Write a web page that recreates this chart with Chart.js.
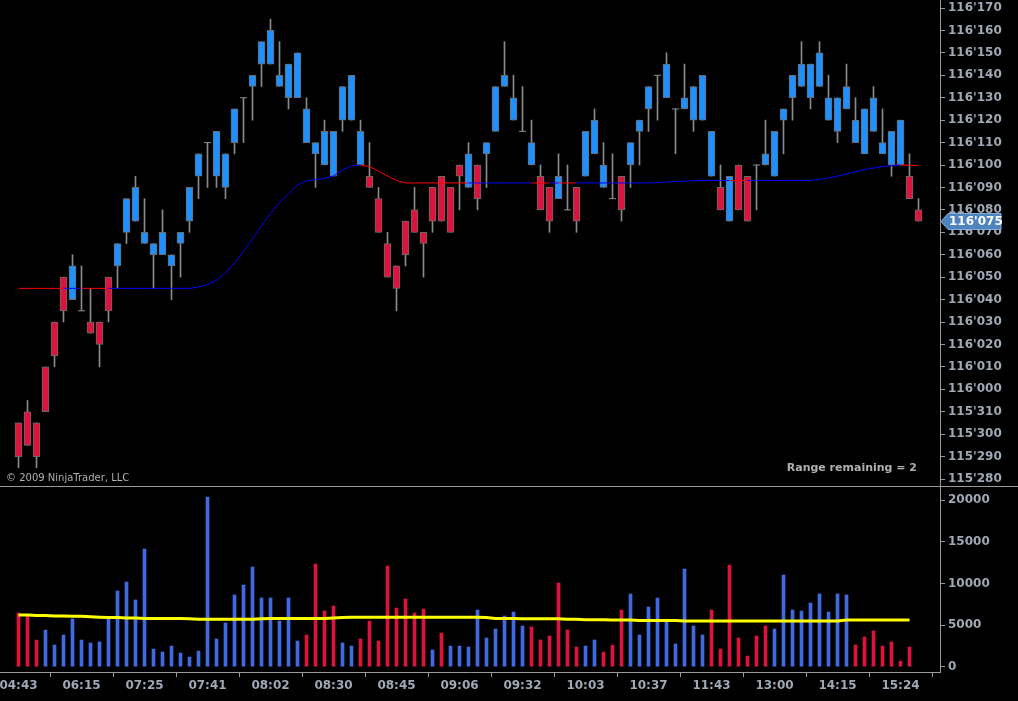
<!DOCTYPE html>
<html>
<head>
<meta charset="utf-8">
<script src="https://cdn.jsdelivr.net/npm/chart.js@4.4.0/dist/chart.umd.min.js"></script>
<style>
  html, body { margin: 0; padding: 0; background: #000; }
  #wrap { position: relative; width: 1018px; height: 701px; overflow: hidden; }
  #price { position: absolute; left: 0; top: 0; }
  #vol { position: absolute; left: 0; top: 487px; }
</style>
</head>
<body>
<div id="wrap">
  <canvas id="price" width="1018" height="487"></canvas>
  <canvas id="vol" width="1018" height="214"></canvas>
</div>
<script>
// prices in bond quote notation: 116.075 means 116'075 (116 and 7.5/32)
const opens = [
  115.305, 115.31, 115.305, 116.01, 116.03, 116.05, 116.04, 116.035, 116.03, 116.03,
  116.05, 116.055, 116.07, 116.075, 116.065, 116.06, 116.06, 116.055, 116.065, 116.075,
  116.095, 116.11, 116.095, 116.09, 116.11, 116.13, 116.135, 116.145, 116.145, 116.135,
  116.13, 116.13, 116.11, 116.105, 116.1, 116.095, 116.12, 116.12, 116.1, 116.095,
  116.085, 116.065, 116.055, 116.075, 116.08, 116.07, 116.09, 116.095, 116.09, 116.1,
  116.09, 116.1, 116.105, 116.115, 116.135, 116.12, 116.115, 116.1, 116.095, 116.09,
  116.085, 116.08, 116.09, 116.095, 116.105, 116.09, 116.085, 116.095, 116.1, 116.115,
  116.125, 116.14, 116.13, 116.125, 116.125, 116.12, 116.12, 116.095, 116.09, 116.075,
  116.1, 116.095, 116.1, 116.1, 116.095, 116.12, 116.13, 116.135, 116.13, 116.135,
  116.12, 116.115, 116.125, 116.11, 116.105, 116.115, 116.105, 116.1, 116.1, 116.095,
  116.08
];
const highs = [
  115.305, 115.315, 115.305, 116.01, 116.03, 116.05, 116.06, 116.055, 116.045, 116.03,
  116.05, 116.065, 116.085, 116.095, 116.085, 116.065, 116.08, 116.06, 116.07, 116.09,
  116.105, 116.11, 116.115, 116.105, 116.125, 116.13, 116.14, 116.155, 116.165, 116.155,
  116.145, 116.15, 116.13, 116.11, 116.12, 116.115, 116.135, 116.14, 116.12, 116.11,
  116.09, 116.07, 116.055, 116.075, 116.09, 116.07, 116.09, 116.095, 116.09, 116.1,
  116.11, 116.1, 116.11, 116.135, 116.155, 116.14, 116.135, 116.12, 116.1, 116.09,
  116.105, 116.1, 116.09, 116.115, 116.125, 116.11, 116.105, 116.095, 116.11, 116.12,
  116.135, 116.14, 116.15, 116.125, 116.145, 116.135, 116.14, 116.115, 116.1, 116.095,
  116.1, 116.095, 116.1, 116.12, 116.115, 116.125, 116.14, 116.155, 116.145, 116.155,
  116.14, 116.13, 116.145, 116.13, 116.125, 116.135, 116.125, 116.115, 116.12, 116.105,
  116.085
];
const lows = [
  115.285, 115.295, 115.285, 115.31, 116.01, 116.03, 116.04, 116.035, 116.025, 116.01,
  116.03, 116.045, 116.065, 116.075, 116.065, 116.045, 116.06, 116.04, 116.05, 116.07,
  116.085, 116.09, 116.09, 116.085, 116.105, 116.11, 116.12, 116.135, 116.145, 116.135,
  116.125, 116.13, 116.11, 116.09, 116.1, 116.095, 116.115, 116.12, 116.1, 116.09,
  116.07, 116.05, 116.035, 116.055, 116.07, 116.05, 116.07, 116.075, 116.07, 116.08,
  116.09, 116.08, 116.09, 116.115, 116.135, 116.12, 116.115, 116.1, 116.08, 116.07,
  116.085, 116.08, 116.07, 116.095, 116.105, 116.09, 116.085, 116.075, 116.09, 116.1,
  116.115, 116.12, 116.13, 116.105, 116.125, 116.115, 116.12, 116.095, 116.08, 116.075,
  116.08, 116.075, 116.08, 116.1, 116.095, 116.105, 116.12, 116.135, 116.125, 116.135,
  116.12, 116.11, 116.125, 116.11, 116.105, 116.115, 116.105, 116.095, 116.1, 116.085,
  116.075
];
const closes = [
  115.29, 115.295, 115.29, 115.31, 116.015, 116.035, 116.055, 116.035, 116.025, 116.02,
  116.035, 116.065, 116.085, 116.09, 116.07, 116.065, 116.07, 116.06, 116.07, 116.09,
  116.105, 116.11, 116.115, 116.105, 116.125, 116.13, 116.14, 116.155, 116.16, 116.14,
  116.145, 116.15, 116.125, 116.11, 116.115, 116.115, 116.135, 116.14, 116.115, 116.09,
  116.07, 116.05, 116.045, 116.06, 116.07, 116.065, 116.075, 116.075, 116.07, 116.095,
  116.105, 116.085, 116.11, 116.135, 116.14, 116.13, 116.115, 116.11, 116.08, 116.075,
  116.095, 116.08, 116.075, 116.115, 116.12, 116.1, 116.085, 116.08, 116.11, 116.12,
  116.135, 116.14, 116.145, 116.125, 116.13, 116.135, 116.14, 116.115, 116.08, 116.095,
  116.08, 116.075, 116.1, 116.105, 116.115, 116.125, 116.14, 116.145, 116.145, 116.15,
  116.13, 116.13, 116.135, 116.12, 116.125, 116.13, 116.11, 116.115, 116.12, 116.085,
  116.075
];
// moving average of price and its trend (U = rising / blue, D = falling / red)
const priceMA = [
  116.045, 116.045, 116.045, 116.045, 116.045, 116.045, 116.045, 116.045, 116.045, 116.045,
  116.045, 116.045, 116.045, 116.045, 116.045, 116.045, 116.045, 116.045, 116.045, 116.045,
  116.0456, 116.0467, 116.0487, 116.0519, 116.0563, 116.0617, 116.067, 116.0728, 116.0786, 116.0831,
  116.0871, 116.0911, 116.0929, 116.0935, 116.094, 116.0951, 116.0978, 116.0996, 116.1, 116.0993,
  116.0973, 116.0951, 116.0931, 116.092, 116.092, 116.092, 116.092, 116.092, 116.092, 116.092,
  116.092, 116.092, 116.092, 116.092, 116.092, 116.092, 116.092, 116.092, 116.092, 116.092,
  116.092, 116.092, 116.092, 116.092, 116.092, 116.092, 116.092, 116.092, 116.092, 116.092,
  116.092, 116.0922, 116.0924, 116.0926, 116.0928, 116.093, 116.0931, 116.0931, 116.0931, 116.0931,
  116.0931, 116.0931, 116.0931, 116.0931, 116.0931, 116.0931, 116.0931, 116.0931, 116.0931, 116.0936,
  116.0942, 116.095, 116.096, 116.097, 116.098, 116.0987, 116.0993, 116.0997, 116.1, 116.0999,
  116.0998
];
const maTrend = ('DDDDDDUUDD DUUUUUUUUU UUUUUUUUUU UUUUUUUUUD DDDDDDDDDD ' +
  'DUUUUUUUDD UDDUUUUUUU UUUUUUUUUU DDUUUUUUUU UUUUUUUUUD D').replace(/ /g, '').split('');

const volumes = [
  6450, 6090, 3200, 4400, 2600, 3800, 5730, 3200, 2850, 2970,
  5730, 9100, 10180, 8020, 14150, 2120, 1760, 2480, 1640, 1160,
  1880, 20400, 3330, 5250, 8620, 9820, 11980, 8260, 8260, 5490,
  8260, 3090, 3810, 12340, 6690, 7290, 2850, 2480, 3330, 5490,
  3090, 12100, 7050, 8140, 6450, 6930, 2000, 4050, 2480, 2480,
  2360, 6810, 3450, 4530, 6090, 6570, 4890, 4770, 3210, 3690,
  10060, 4410, 2360, 2480, 3210, 1760, 2600, 6810, 8740, 3810,
  7170, 8260, 5370, 2730, 11740, 4890, 3810, 6810, 2120, 12220,
  3450, 1280, 3690, 4890, 4530, 11020, 6810, 6690, 7650, 8740,
  6570, 8740, 8620, 2600, 3570, 4290, 2480, 2970, 680, 2360
];
const volDir = ('DDDUUUUUUU UUUUUUUUUU UUUUUUUUUU UUDDDDUUDD DDDDDDUDUU ' +
  'UUUUUUUDDD DDDUUDDDUU UUUUUUUDDD DDDDUUUUUU UUUDDDDDDD').replace(/ /g, '').split('');
const volMA = [
  6200, 6200, 6150, 6150, 6100, 6100, 6050, 6050, 6000, 5950,
  5900, 5900, 5850, 5850, 5800, 5800, 5800, 5800, 5800, 5750,
  5700, 5700, 5700, 5700, 5700, 5700, 5700, 5750, 5800, 5800,
  5800, 5800, 5800, 5800, 5800, 5850, 5900, 5950, 5950, 5950,
  5950, 5950, 5950, 5950, 5950, 5950, 5950, 5950, 5950, 5950,
  5950, 5950, 5900, 5800, 5800, 5800, 5750, 5750, 5750, 5750,
  5750, 5700, 5700, 5650, 5650, 5650, 5600, 5600, 5600, 5550,
  5550, 5550, 5550, 5550, 5500, 5500, 5500, 5500, 5500, 5500,
  5500, 5500, 5500, 5500, 5500, 5500, 5500, 5500, 5500, 5500,
  5500, 5500, 5600, 5600, 5600, 5600, 5600, 5600, 5600, 5600
];
// time labels, one every 7 bars
const timeTicks = ['04:43', '06:15', '07:25', '07:41', '08:02', '08:30', '08:45', '09:06',
  '09:32', '10:03', '10:37', '11:43', '13:00', '14:15', '15:24'];
const volTicks = [0, 5000, 10000, 15000, 20000];
const rangeText = 'Range remaining = 2';
const copyText = '\u00a9 2009 NinjaTrader, LLC';

// quote -> 32nds above 115'000, and back
function toU(q) {
  const w = Math.floor(q + 1e-9);
  return (w - 115) * 32 + Math.round((q - w) * 10000) / 100;
}
function fmtQuote(u) {
  const w = Math.floor(u / 32 + 1e-9);
  const f = u - w * 32;
  return (115 + w) + "'" + String(Math.round(f * 10)).padStart(3, '0');
}

const AXIS_W = 78;
const X_MIN = -2.0556, X_MAX = X_MIN + 940 / 9;
const axisColor = '#9a9a9a';
const labelColor = '#9ea9b5';
const labelFont = { family: 'DejaVu Sans', size: 12, weight: 'bold' };

Chart.defaults.animation = false;
Chart.defaults.plugins.legend.display = false;
Chart.defaults.plugins.tooltip.enabled = false;

const idx = opens.map((_, i) => i);
const wickData = idx.map(i => ({ x: i, y: [toU(lows[i]), toU(highs[i])] }));
const bodyData = idx.filter(i => opens[i] !== closes[i]).map(i => ({
  x: i,
  y: [toU(Math.min(opens[i], closes[i])), toU(Math.max(opens[i], closes[i]))],
  up: closes[i] > opens[i]
}));
const dojiData = idx.filter(i => opens[i] === closes[i]).map(i => ({ x: i, y: toU(closes[i]) }));
const maData = idx.map(i => ({ x: i, y: toU(priceMA[i]) }));

function rightAxis(min, max, tickVals, fmt) {
  return {
    position: 'right',
    min: min,
    max: max,
    afterFit(s) { s.width = AXIS_W; s.paddingTop = 0; s.paddingBottom = 0; },
    afterBuildTicks(s) { s.ticks = tickVals.map(v => ({ value: v })); },
    ticks: { callback: fmt, color: labelColor, font: labelFont, padding: 3 },
    grid: { drawOnChartArea: false, drawTicks: true, tickLength: 5, color: axisColor },
    border: { display: true, color: axisColor }
  };
}

const priceTicks = [];
for (let v = 28; v <= 49; v++) priceTicks.push(v);

const overlay = {
  id: 'overlay',
  afterDraw(chart) {
    const ctx = chart.ctx;
    const ys = chart.scales.y;
    ctx.save();
    // panel separator
    ctx.strokeStyle = axisColor;
    ctx.lineWidth = 1;
    ctx.beginPath();
    ctx.moveTo(0, 486.5);
    ctx.lineTo(1018, 486.5);
    ctx.stroke();

    ctx.fillStyle = '#b0b0b0';
    ctx.textBaseline = 'middle';
    ctx.font = '10px "DejaVu Sans"';
    ctx.textAlign = 'left';
    ctx.fillText(copyText, 6, 478);
    ctx.font = 'bold 11px "DejaVu Sans"';
    ctx.textAlign = 'right';
    ctx.fillText(rangeText, 917, 468);

    // last price marker
    const last = toU(closes[closes.length - 1]);
    const y = Math.round(ys.getPixelForValue(last)) + 0.5;
    ctx.beginPath();
    ctx.moveTo(941, y);
    ctx.lineTo(948, y - 8);
    ctx.lineTo(1001, y - 8);
    ctx.lineTo(1001, y + 8);
    ctx.lineTo(948, y + 8);
    ctx.closePath();
    ctx.fillStyle = '#4d84bd';
    ctx.fill();
    ctx.strokeStyle = '#86acd3';
    ctx.stroke();
    ctx.fillStyle = '#ffffff';
    ctx.font = 'bold 12px "DejaVu Sans"';
    ctx.textAlign = 'left';
    ctx.fillText(fmtQuote(last), 949, y + 0.5);
    ctx.restore();
  }
};

new Chart(document.getElementById('price'), {
  type: 'bar',
  data: {
    datasets: [
      {
        type: 'line',
        data: maData,
        borderWidth: 1,
        pointRadius: 0,
        segment: {
          borderColor: c => maTrend[c.p1DataIndex] === 'D' ? '#ff0000' : '#0000ff'
        },
        order: 0
      },
      {
        data: bodyData,
        grouped: false,
        barThickness: 7,
        backgroundColor: c => (c.raw && c.raw.up) ? '#1e90ff' : '#dc143c',
        borderColor: '#6a6a6a',
        borderWidth: 1,
        borderSkipped: false,
        order: 1
      },
      {
        type: 'line',
        data: dojiData,
        showLine: false,
        pointStyle: 'line',
        pointRadius: 3.5,
        borderColor: '#8a8a8a',
        borderWidth: 1,
        order: 2
      },
      {
        data: wickData,
        grouped: false,
        barThickness: 1,
        backgroundColor: '#8a8a8a',
        order: 3
      }
    ]
  },
  options: {
    responsive: false,
    devicePixelRatio: 1,
    layout: { autoPadding: false, padding: { left: 0, right: 0, top: 0, bottom: 1 } },
    scales: {
      x: { type: 'linear', min: X_MIN, max: X_MAX, offset: false, display: false },
      y: rightAxis(27.689, 49.357, priceTicks, v => fmtQuote(v))
    }
  },
  plugins: [overlay]
});

const volData = volumes.map((v, i) => ({ x: i, y: v }));
const volMAData = volMA.map((v, i) => ({ x: i, y: v }));

new Chart(document.getElementById('vol'), {
  type: 'bar',
  data: {
    datasets: [
      {
        type: 'line',
        data: volMAData,
        borderColor: '#ffff00',
        borderWidth: 3,
        pointRadius: 0,
        order: 0
      },
      {
        data: volData,
        grouped: false,
        barThickness: 3,
        backgroundColor: c => volDir[c.dataIndex] === 'D' ? '#dc143c' : '#4169e1',
        order: 1
      }
    ]
  },
  options: {
    responsive: false,
    devicePixelRatio: 1,
    layout: { autoPadding: false, padding: 0 },
    scales: {
      x: {
        type: 'linear',
        min: X_MIN,
        max: X_MAX,
        offset: false,
        afterFit(s) { s.height = 29; s.paddingLeft = 0; s.paddingRight = 0; },
        afterBuildTicks(s) { s.ticks = timeTicks.map((_, k) => ({ value: k * 7 })); },
        ticks: {
          callback: v => timeTicks[Math.round(v / 7)],
          color: labelColor, font: labelFont, padding: 2,
          maxRotation: 0, autoSkip: false
        },
        grid: { drawOnChartArea: false, drawTicks: true, tickLength: 5, color: axisColor },
        border: { display: true, color: axisColor }
      },
      y: rightAxis(-637, 21600, volTicks, v => String(v))
    }
  }
});
</script>
</body>
</html>
